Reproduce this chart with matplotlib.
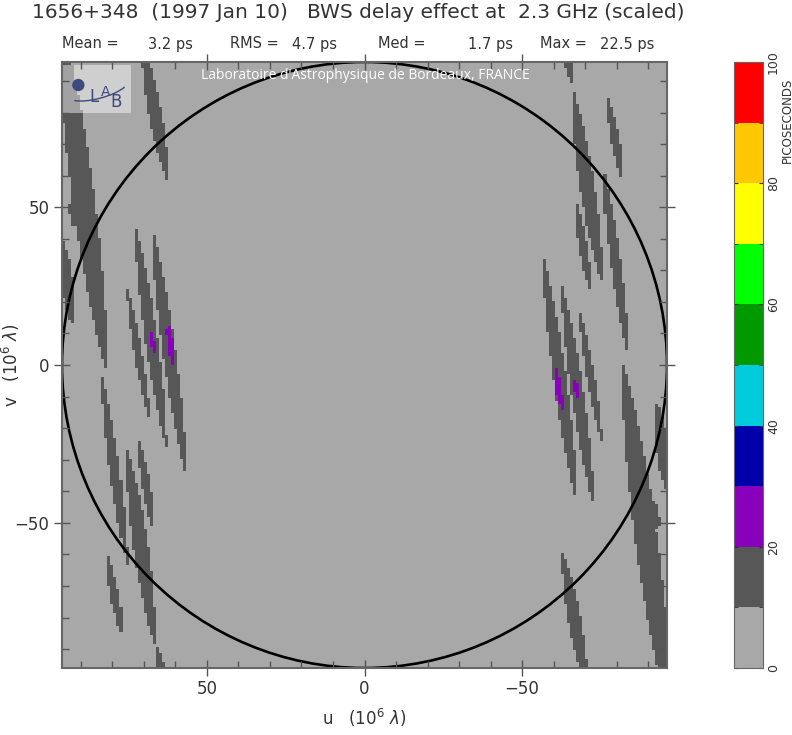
import numpy as np
import matplotlib
matplotlib.use("Agg")
import matplotlib.pyplot as plt
from matplotlib.colors import ListedColormap, BoundaryNorm
from matplotlib.patches import Circle, Rectangle, Arc

# ---- data (u, v in 10^6 lambda) ----
# dark streaks (10-20 ps): centre line (u0, v0) -> (u1, v1), half width
streak_u0 = [97.5, 96.5, 93.7, 71.1, 66.3, 75.9, 82.2, 83.8, 72.1, 73.3, 67.9, 75.9,
             -82.2, -93.3, -92.4, -63.2, -63.8, -66.3, -77.5, -75.9, -67.3, -62.9, -56.8, -68.6]
streak_v0 = [112.0, 40.3, 53.0, 103.2, -89.2, -27.0, -59.7, -2.5, -23.8, 44.8, 44.4, 24.4,
             1.0, -12.4, -42.9, -59.7, 106.3, 88.3, 84.8, 63.5, 53.0, 26.0, 35.6, 17.5]
streak_u1 = [82.2, 93.3, 92.4, 62.9, 63.8, 67.0, 77.5, 75.6, 67.3, 63.2, 56.8, 68.6,
             -97.5, -96.5, -93.7, -71.1, -66.3, -75.9, -82.2, -84.1, -72.1, -73.3, -67.9, -75.9]
streak_v1 = [-1.6, 12.7, 43.5, 58.7, -106.3, -88.9, -85.1, -64.1, -53.3, -26.0, -35.6, -17.5,
             -112.0, -40.3, -52.7, -103.2, 89.8, 26.3, 58.7, 2.2, 23.8, -45.1, -44.4, -24.8]
streak_hw = [3.6, 2.0, 1.0, 2.1, 1.6, 2.4, 1.4, 1.6, 1.4, 2.0, 2.1, 1.3,
             3.6, 2.0, 1.0, 2.1, 1.6, 2.4, 1.4, 1.6, 1.4, 2.0, 2.1, 1.3]

# purple spots (20-30 ps)
spot_u0 = [68.3, 62.9, -67.0, -60.6]
spot_v0 = [10.5, 13.7, -4.8, 0.0]
spot_u1 = [67.0, 61.0, -68.6, -63.2]
spot_v1 = [3.8, -0.6, -11.1, -14.9]
spot_hw = [0.8, 1.0, 0.8, 1.0]

background_ps = 5
streak_ps = 15
spot_ps = 25

level_bounds = [0, 10, 20, 30, 40, 50, 60, 70, 80, 90, 100]
level_colors = ["#a8a8a8", "#575757", "#8800bb", "#0000aa", "#00ccdd",
                "#009900", "#00ff00", "#ffff00", "#ffc800", "#ff0000"]

uv_max = 96
title = "1656+348  (1997 Jan 10)   BWS delay effect at  2.3 GHz (scaled)"
stats = [("Mean =", 62), ("3.2 ps", 148), ("RMS =", 230), ("4.7 ps", 292),
         ("Med =", 378), ("1.7 ps", 468), ("Max =", 540), ("22.5 ps", 600)]


def paint(field, uu, vv, u0, v0, u1, v1, hw, level):
    # tapered streak along the segment, widest in the middle
    for a0, b0, a1, b1, w in zip(u0, v0, u1, v1, hw):
        cu, cv = (a0 + a1) / 2, (b0 + b1) / 2
        half = np.hypot(a1 - a0, b1 - b0) / 2
        du, dv = (a1 - a0) / (2 * half), (b1 - b0) / (2 * half)
        s = ((uu - cu) * du + (vv - cv) * dv) / half
        t = np.abs(-(uu - cu) * dv + (vv - cv) * du) / w
        inside = (np.abs(s) <= 1) & (t <= np.clip(1 - s ** 2, 0, None) ** 0.8)
        field[inside] = level


n = 200
grid = np.linspace(-uv_max, uv_max, n)
uu, vv = np.meshgrid(grid, grid)
field = np.full(uu.shape, float(background_ps))
paint(field, uu, vv, streak_u0, streak_v0, streak_u1, streak_v1, streak_hw, streak_ps)
paint(field, uu, vv, spot_u0, spot_v0, spot_u1, spot_v1, spot_hw, spot_ps)

cmap = ListedColormap(level_colors)
norm = BoundaryNorm(level_bounds, cmap.N)

fig = plt.figure(figsize=(7.92, 7.35), dpi=100)
W, H = 792, 735
ax = fig.add_axes([62 / W, 1 - 668 / H, 605 / W, 606 / H])
im = ax.imshow(field, extent=(-uv_max, uv_max, -uv_max, uv_max), origin="lower",
               cmap=cmap, norm=norm, interpolation="nearest", aspect="auto")
ax.add_patch(Circle((0, 0), uv_max, fill=False, color="black", lw=1.9))
ax.set_xlim(uv_max, -uv_max)
ax.set_ylim(-uv_max, uv_max)

ax.set_xticks([50, 0, -50])
ax.set_xticklabels(["50", "0", "\u221250"])
ax.set_yticks([-50, 0, 50])
ax.set_yticklabels(["\u221250", "0", "50"])
ax.set_xticks(np.arange(-90, 91, 10), minor=True)
ax.set_yticks(np.arange(-90, 91, 10), minor=True)
ax.tick_params(which="major", direction="inout", length=12, width=1, color="#555555",
               labelsize=12, labelcolor="#333333", top=True, right=True, pad=3)
ax.tick_params(which="minor", direction="in", length=5, width=1, color="#555555",
               top=True, right=True)
for sp in ax.spines.values():
    sp.set_color("#666666")
    sp.set_linewidth(1.5)
ax.set_xlabel("u   (10$^6$ $\\lambda$)", fontsize=12, color="#333333", labelpad=6)
fig.text(11 / W, 1 - 365 / H, "v   (10$^6$ $\\lambda$)", rotation=90, ha="center",
         va="center", fontsize=12, color="#333333")

# logo box and lab banner
ax.add_patch(Rectangle((0.002, 0.916), 0.112, 0.079, transform=ax.transAxes,
                       facecolor="white", alpha=0.45, edgecolor="none"))
ax.add_patch(Circle((0.027, 0.962), 0.009, transform=ax.transAxes, color="#3d4a7e"))
ax.add_patch(Arc((0.06, 0.955), 0.10, 0.03, angle=15, theta1=190, theta2=350,
                 transform=ax.transAxes, color="#3d4a7e", lw=1))
ax.text(0.046, 0.934, "L", transform=ax.transAxes, fontsize=12, color="#3d4a7e")
ax.text(0.064, 0.944, "A", transform=ax.transAxes, fontsize=10, color="#3d4a7e")
ax.text(0.080, 0.925, "B", transform=ax.transAxes, fontsize=12, color="#3d4a7e")
ax.text(0.502, 0.977, "Laboratoire d'Astrophysique de Bordeaux, FRANCE",
        transform=ax.transAxes, ha="center", va="center", fontsize=10,
        family="Open Sans", color="white")

# colour bar
cax = fig.add_axes([734 / W, 1 - 668 / H, 29 / W, 606 / H])
cb = fig.colorbar(im, cax=cax, ticks=[0, 20, 40, 60, 80, 100])
cb.outline.set_edgecolor("#666666")
cax.set_yticks(level_bounds, minor=True)
cax.tick_params(which="major", direction="in", length=3, color="#333333",
                labelsize=9, labelcolor="#333333", pad=3, left=True)
cax.tick_params(which="minor", direction="in", length=3, color="#333333", left=True)
for lab in cax.get_yticklabels():
    lab.set_rotation(90)
    lab.set_va("center")
fig.text(787 / W, 1 - 78 / H, "PICOSECONDS", rotation=90, ha="center", va="top",
         fontsize=8.5, color="#333333")

# header
fig.text(32 / W, 1 - 13 / H, title, fontsize=14.5, color="#333333", va="center")
for txt, x in stats:
    fig.text(x / W, 1 - 44 / H, txt, fontsize=10.5, color="#333333", va="center")

fig.savefig("out.png", dpi=100)
